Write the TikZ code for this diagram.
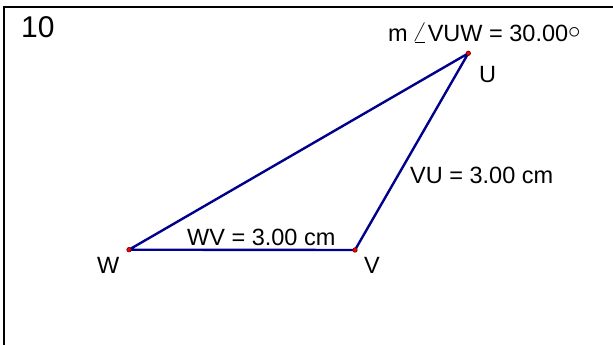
\documentclass[tikz,border=0pt]{standalone}
\usepackage{fontspec}
\setmainfont{Liberation Sans}
\begin{document}
\begin{tikzpicture}[x=1pt,y=-1pt,
  frame/.style={line width=2.2pt,black},
  side/.style={line width=2.4pt,color={rgb,255:red,0;green,0;blue,140},line join=round},
  pt/.style={circle,fill=red,draw={rgb,255:red,90;green,0;blue,0},line width=0.6pt,inner sep=0pt,minimum size=4.5pt},
  lbl/.style={anchor=base west,inner sep=0pt,font=\fontsize{23.5}{28}\selectfont},
  big/.style={anchor=base west,inner sep=0pt,font=\fontsize{30}{34}\selectfont}]
\useasboundingbox (0,0) rectangle (613,345);
\fill[white] (0,0) rectangle (613,345);
\coordinate (tl) at (4,7);
\coordinate (tr) at (613,7);
\coordinate (bl) at (4,345);
\draw[frame] (tr) -- (tl) -- (bl);
\coordinate (U) at (468.3,53.3);
\coordinate (W) at (129,249.7);
\coordinate (V) at (355,250);
\draw[side] (W) -- (U) -- (V) -- cycle;
\node[pt] (dU) at (U) {};
\node[pt] (dW) at (W) {};
\node[pt] (dV) at (V) {};
\node[big] (num) at (21,38) {10};
\node[lbl] (ang) at (388,42) {m\,\scalebox{1.2}{$\angle$}VUW = 30.00\raisebox{0.15em}{$\circ$}};
\node[lbl] (lU) at (479,82) {U};
\node[lbl] (lVU) at (410,183) {VU = 3.00 cm};
\node[lbl] (lWV) at (187,245) {WV = 3.00 cm};
\node[lbl] (lW) at (97,273) {W};
\node[lbl] (lV) at (364,273) {V};
\end{tikzpicture}
\end{document}
